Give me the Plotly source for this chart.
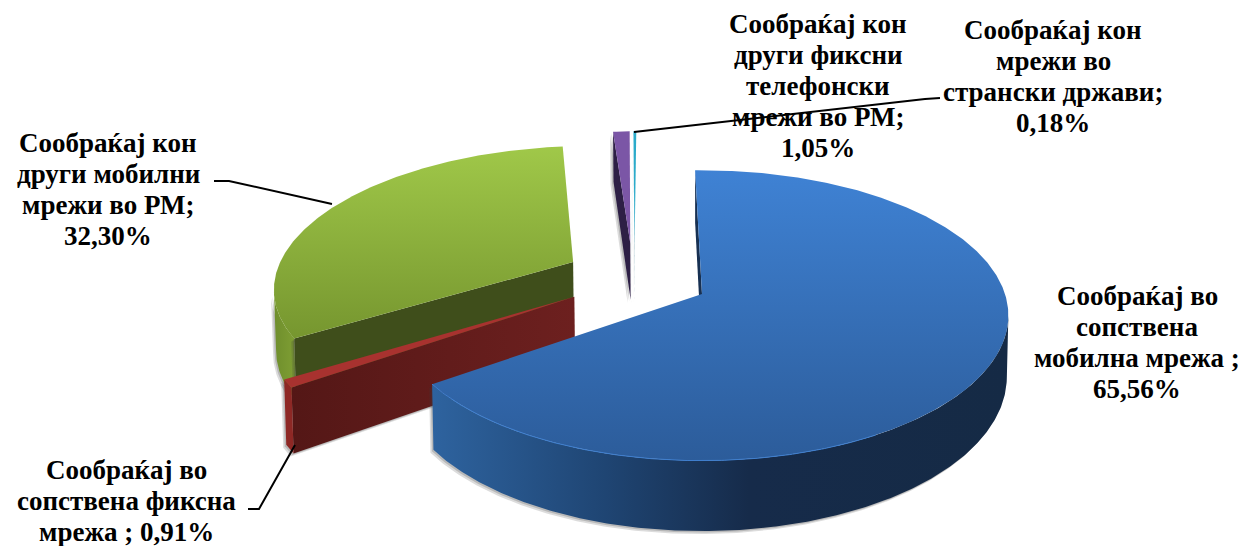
import numpy as np
import plotly.graph_objects as go

# ---- data ----
categories = [
    "Сообраќај во сопствена мобилна мрежа",
    "Сообраќај во сопствена фиксна мрежа",
    "Сообраќај кон други мобилни мрежи во РМ",
    "Сообраќај кон други фиксни телефонски мрежи во РМ",
    "Сообраќај кон мрежи во странски држави",
]
values = [65.56, 0.91, 32.30, 1.05, 0.18]
label_lines = [
    ["Сообраќај во", "сопствена", "мобилна мрежа ;", "65,56%"],
    ["Сообраќај во", "сопствена фиксна", "мрежа ; 0,91%"],
    ["Сообраќај кон", "други мобилни", "мрежи во РМ;", "32,30%"],
    ["Сообраќај кон", "други фиксни", "телефонски", "мрежи во РМ;", "1,05%"],
    ["Сообраќај кон", "мрежи во", "странски држави;", "0,18%"],
]

# ---- style / geometry of the 3-D look ----
W, H = 1245, 546
CX, CY = 702, 294
RX, RY = 303, 142
K = 0.148
DEPTH = 60
START = -1.5
BOTTOM_X = 0.995
offsets = [(0, 0), (-0.42, 0.02), (-0.44, -0.233), (-0.25, -0.38), (-0.235, -0.38)]
label_pos = [(1137, 342), (126, 501), (108, 189), (818, 86), (1053, 76)]
FONT = "Liberation Serif"
FSIZE = 27
PITCH = 31

BLUE_TOP = [[0, "#3f82d4"], [1, "#2c5c9a"]]
BLUE_OUT = [[0, "#2e639f"], [0.3, "#1f4573"], [0.55, "#162b4a"], [1, "#152a45"]]
RED_WALL = [[0, "#541716"], [1, "#6d201f"]]
GREEN_TOP = [[0, "#a0c849"], [1, "#76962f"]]
GREEN_OUT = [[0, "#6f8e2c"], [1, "#7f9f34"]]


def project(u, v, z=0.0):
    w = 1 - K * v
    sx = CX + RX * u / w
    sy = CY + RY * v / w + DEPTH * z / w
    sx = CX + (sx - CX) * (1 - (1 - BOTTOM_X) * z)
    return sx, sy


def arc(a0, a1, off):
    t = np.radians(np.linspace(a0, a1, max(int(abs(a1 - a0)) * 2, 2)))
    return off[0] + np.sin(t), off[1] - np.cos(t)


fig = go.Figure()


def poly(x, y, color=None, grad=None, kind=None):
    d = dict(x=np.round(x, 2).tolist(), y=np.round(y, 2).tolist(), mode="lines",
             fill="toself", line=dict(width=0), hoverinfo="skip", showlegend=False)
    if grad is not None:
        lo, hi = (min(x), max(x)) if kind == "horizontal" else (min(y), max(y))
        d["fillgradient"] = dict(type=kind, colorscale=grad, start=lo, stop=hi)
    else:
        d["fillcolor"] = color
    fig.add_trace(go.Scatter(**d))


def outer_wall(a0, a1, off, keep=None):
    """Rim of a slice; keep='left'/'right' stops it at the extreme so the silhouette stays smooth."""
    u, v = arc(a0, a1, off)
    xt, yt = project(u, v, 0.0)
    xb, yb = project(u, v, 1.0)
    if keep == "left":
        i, j = int(np.argmin(xt)), int(np.argmin(xb))
        xt, yt, xb, yb = xt[:i + 1], yt[:i + 1], xb[:j + 1], yb[:j + 1]
    elif keep == "right":
        i, j = int(np.argmax(xt)), int(np.argmax(xb))
        xt, yt, xb, yb = xt[i:], yt[i:], xb[j:], yb[j:]
    return np.r_[xt, xb[::-1]], np.r_[yt, yb[::-1]]


def radial_wall(a, off):
    u, v = arc(a, a, off)
    u, v = u[0], v[0]
    p = [project(off[0], off[1], 0.0), project(u, v, 0.0), project(u, v, 1.0), project(off[0], off[1], 1.0)]
    return np.array([q[0] for q in p], dtype=float), np.array([q[1] for q in p], dtype=float)


def top_face(a0, a1, off):
    u, v = arc(a0, a1, off)
    xa, ya = project(off[0], off[1], 0.0)
    x, y = project(u, v, 0.0)
    return np.r_[xa, x, xa], np.r_[ya, y, ya]


def shadow(x, y):
    poly(np.asarray(x) - 3, np.asarray(y) + 3, color="rgba(60,60,60,0.18)")
    poly(np.asarray(x) - 1.5, np.asarray(y) + 1.5, color="rgba(60,60,60,0.22)")


# slice angles from the values
edges = START + np.r_[0, np.cumsum(values)] * 3.6
a = list(zip(edges[:-1], edges[1:]))

# cyan
x, y = radial_wall(a[4][0], offsets[4]); shadow(x, y)
poly(x, y, color="#125f78")
x, y = top_face(*a[4], offsets[4]); poly(x, y, color="#2babca")

# purple
x, y = radial_wall(a[3][0], offsets[3]); shadow(x, y)
poly(x, y, color="#2d1f45")
x, y = top_face(*a[3], offsets[3]); poly(x, y, color="#7b56a6")

# green
x, y = outer_wall(*a[2], offsets[2], keep="left"); shadow(x, y)
poly(x, y, grad=GREEN_OUT, kind="horizontal")
x, y = radial_wall(a[2][0], offsets[2]); shadow(x, y)
poly(x, y, color="#3f4e1b")
x, y = top_face(*a[2], offsets[2]); poly(x, y, grad=GREEN_TOP, kind="vertical")

# red
x, y = radial_wall(a[1][0], offsets[1]); shadow(x, y)
poly(x, y, grad=RED_WALL, kind="horizontal")
x, y = outer_wall(*a[1], offsets[1]); shadow(x, y)
poly(x, y, color="#8e2825")
x, y = top_face(*a[1], offsets[1]); poly(x, y, color="#a8322f")

# blue
x, y = outer_wall(*a[0], offsets[0], keep="right"); shadow(x, y)
poly(x, y, grad=BLUE_OUT, kind="horizontal")
x, y = radial_wall(a[0][0], offsets[0])
poly(x, y, color="#173052")
x, y = top_face(*a[0], offsets[0]); poly(x, y, grad=BLUE_TOP, kind="vertical")
u, v = arc(150, a[0][1], offsets[0])
xa, ya = project(u, v, 0.0)
fig.add_trace(go.Scatter(x=xa.tolist(), y=ya.tolist(), mode="lines",
                         line=dict(color="#3f7fcf", width=1), hoverinfo="skip", showlegend=False))

for (lx, ly), lines in zip(label_pos, label_lines):
    n = len(lines)
    for i, t in enumerate(lines):
        fig.add_annotation(x=lx, y=ly + (i - (n - 1) / 2) * PITCH, xref="x", yref="y",
                           text="<b>" + t + "</b>", showarrow=False,
                           xanchor="center", yanchor="middle", align="center",
                           font=dict(family=FONT, size=FSIZE, color="#000000"))

leaders = [
    "M 214 181 L 229 181 L 332 204",
    "M 248 509 L 259 509 L 295 445",
    "M 634 132 L 925 99 L 940 98",
]
for p in leaders:
    fig.add_shape(type="path", path=p, xref="x", yref="y", line=dict(color="#000000", width=2))

fig.update_layout(
    width=W, height=H, margin=dict(l=0, r=0, t=0, b=0),
    paper_bgcolor="#ffffff", plot_bgcolor="#ffffff", showlegend=False,
    xaxis=dict(range=[0, W], visible=False, fixedrange=True),
    yaxis=dict(range=[H, 0], visible=False, fixedrange=True),
)
fig.write_html("out.html", config={"displayModeBar": False},
               post_script="document.body.style.margin='0';document.body.style.overflow='hidden';")
